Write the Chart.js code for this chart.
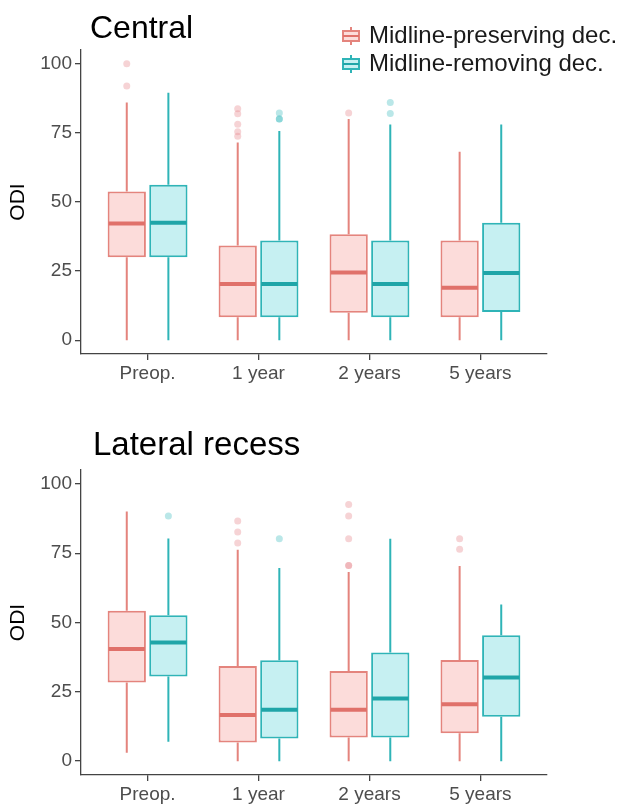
<!DOCTYPE html>
<html>
<head>
<meta charset="utf-8">
<script src="https://cdn.jsdelivr.net/npm/chart.js@4.4.0/dist/chart.umd.min.js"></script>
<style>
  html, body { margin: 0; padding: 0; background: #fff; width: 633px; height: 807px; overflow: hidden;
    font-family: "Liberation Sans", Arial, sans-serif; }
  canvas { position: absolute; left: 0; }
  #c1 { top: 0; }
  #c2 { top: 400px; }
  .title { position: absolute; color: #000; line-height: 1; white-space: nowrap; }
  .legtext { position: absolute; left: 369px; font-size: 24px; line-height: 28px; color: #1a1a1a; white-space: nowrap; }
  .key { position: absolute; left: 342px; width: 18px; height: 18px; }
  .key .wh { position: absolute; left: 8px; top: 0; width: 2px; height: 18px; }
  .key .bx { position: absolute; left: 0; top: 3px; width: 14px; height: 8px; border-width: 2px; border-style: solid; }
  .key .md { position: absolute; left: 1px; top: 8px; width: 16px; height: 2px; }
</style>
</head>
<body>
<canvas id="c1" width="633" height="410"></canvas>
<canvas id="c2" width="633" height="407"></canvas>

<div class="title" style="left:90px; top:11px; font-size:32px;">Central</div>
<div class="title" style="left:93px; top:427px; font-size:33px;">Lateral recess</div>

<div class="key" style="top:27px;">
  <div class="wh" style="background:#E4847D"></div>
  <div class="bx" style="background:#FCDCDA;border-color:#E4847D;"></div>
  <div class="md" style="background:#E0716A"></div>
</div>
<div class="legtext" style="top:21px;">Midline-preserving dec.</div>
<div class="key" style="top:55px;">
  <div class="wh" style="background:#2FB4B7"></div>
  <div class="bx" style="background:#C6F0F2;border-color:#2FB4B7;"></div>
  <div class="md" style="background:#1FA5A8"></div>
</div>
<div class="legtext" style="top:49px;">Midline-removing dec.</div>

<script>
// ---------- data ----------
const categories = ['Preop.', '1 year', '2 years', '5 years'];
const yTickValues = [0, 25, 50, 75, 100];
const seriesNames = ['Midline-preserving dec.', 'Midline-removing dec.'];

// Central — midline-preserving
const centralPresLow = [0, 0, 0, 0];
const centralPresQ1 = [30, 8.3, 9.9, 8.3];
const centralPresMed = [42.2, 20.3, 24.5, 19];
const centralPresQ3 = [53.8, 34.3, 38.3, 36.1];
const centralPresHigh = [86, 71.5, 80, 68.2];
const centralPresOut = [[100, 92], [83.7, 81.9, 78.1, 75.4, 73.8], [82.2], []];
// Central — midline-removing
const centralRemLow = [0, 0, 0, 0];
const centralRemQ1 = [30, 8.3, 8.3, 10.2];
const centralRemMed = [42.5, 20.3, 20.3, 24.3];
const centralRemQ3 = [56.2, 36.1, 36.1, 42.5];
const centralRemHigh = [89.5, 75.7, 78, 78];
const centralRemOut = [[], [82.2, 80, 80], [86, 82], []];

// Lateral recess — midline-preserving
const latPresLow = [3, 0, 0, 0];
const latPresQ1 = [28.4, 6.7, 8.5, 10.1];
const latPresMed = [40.4, 16.6, 18.5, 20.5];
const latPresQ3 = [54.2, 34.3, 32.5, 36.5];
const latPresHigh = [90, 76.2, 68.2, 70.4];
const latPresOut = [[], [86.6, 82.6, 78.7], [92.6, 88.4, 80.2, 70.6, 70.6], [80.2, 76.4]];
// Lateral recess — midline-removing
const latRemLow = [7, 0, 0, 0];
const latRemQ1 = [30.5, 8.2, 8.5, 16];
const latRemMed = [42.8, 18.5, 22.6, 30.2];
const latRemQ3 = [52.6, 36.4, 39.2, 45.4];
const latRemHigh = [80.3, 69.7, 80.2, 56.5];
const latRemOut = [[88.4], [80.2], [], []];

// ---------- styles ----------
const styles = [
  { fill: '#FCDCDA', stroke: '#E4847D', median: '#E0716A', outlier: 'rgba(232,140,145,0.38)' },
  { fill: '#C6F0F2', stroke: '#2FB4B7', median: '#1FA5A8', outlier: 'rgba(40,180,185,0.32)' }
];

function boxDataset(idx, q1, med, q3, lo, hi, out) {
  return {
    label: seriesNames[idx],
    data: q1.map((v, i) => ({ x: i + 1, y: [v, q3[i]] })),
    backgroundColor: styles[idx].fill,
    borderColor: styles[idx].stroke,
    borderWidth: 2,
    borderSkipped: false,
    categoryPercentage: 0.75,
    barPercentage: 0.92,
    stats: { lo, med, hi, out },
    styleIdx: idx
  };
}

const boxExtras = {
  id: 'boxExtras',
  beforeDatasetsDraw(chart) {
    const ctx = chart.ctx, ys = chart.scales.y;
    chart.data.datasets.forEach((ds, d) => {
      const meta = chart.getDatasetMeta(d);
      const st = styles[ds.styleIdx];
      meta.data.forEach((bar, i) => {
        const x = bar.x;
        const q1 = ds.data[i].y[0], q3 = ds.data[i].y[1];
        ctx.save();
        ctx.strokeStyle = st.stroke;
        ctx.lineWidth = 2;
        ctx.beginPath();
        ctx.moveTo(x, ys.getPixelForValue(q3));
        ctx.lineTo(x, ys.getPixelForValue(ds.stats.hi[i]));
        ctx.moveTo(x, ys.getPixelForValue(q1));
        ctx.lineTo(x, ys.getPixelForValue(ds.stats.lo[i]));
        ctx.stroke();
        ctx.restore();
      });
    });
  },
  afterDatasetsDraw(chart) {
    const ctx = chart.ctx, ys = chart.scales.y;
    chart.data.datasets.forEach((ds, d) => {
      const meta = chart.getDatasetMeta(d);
      const st = styles[ds.styleIdx];
      meta.data.forEach((bar, i) => {
        const x = bar.x, w = bar.width;
        const ym = ys.getPixelForValue(ds.stats.med[i]);
        ctx.save();
        ctx.strokeStyle = st.median;
        ctx.lineWidth = 4;
        ctx.beginPath();
        ctx.moveTo(x - w / 2 + 1, ym);
        ctx.lineTo(x + w / 2 - 1, ym);
        ctx.stroke();
        ctx.fillStyle = st.outlier;
        ds.stats.out[i].forEach(v => {
          ctx.beginPath();
          ctx.arc(x, ys.getPixelForValue(v), 3.5, 0, Math.PI * 2);
          ctx.fill();
        });
        ctx.restore();
      });
    });
  }
};

function makeChart(id, padTop, areaBottom, datasets) {
  const canvas = document.getElementById(id);
  const H = canvas.height;
  return new Chart(canvas, {
    type: 'bar',
    data: { datasets },
    plugins: [boxExtras],
    options: {
      responsive: false,
      animation: false,
      events: [],
      layout: { padding: { top: padTop, right: 86, bottom: 0, left: 0 } },
      plugins: { legend: { display: false }, tooltip: { enabled: false }, title: { display: false } },
      scales: {
        x: {
          type: 'linear',
          min: 0.4,
          max: 4.6,
          offset: false,
          afterBuildTicks: s => { s.ticks = categories.map((c, i) => ({ value: i + 1 })); },
          afterFit: s => { s.height = H - areaBottom; },
          grid: { display: true, drawOnChartArea: false, drawTicks: true, tickLength: 6, color: '#444', lineWidth: 1.3, offset: false },
          border: { display: true, color: '#444', width: 1.3 },
          ticks: {
            color: '#4D4D4D', padding: 2, maxRotation: 0, autoSkip: false,
            font: { family: '"Liberation Sans", Arial, sans-serif', size: 19 },
            callback: v => categories[Math.round(v) - 1]
          }
        },
        y: {
          min: -5,
          max: 105,
          afterBuildTicks: s => { s.ticks = yTickValues.map(v => ({ value: v })); },
          afterFit: s => { s.width = 81; },
          grid: { display: true, drawOnChartArea: false, drawTicks: true, tickLength: 6, color: '#444', lineWidth: 1.3 },
          border: { display: true, color: '#444', width: 1.3 },
          ticks: {
            color: '#4D4D4D', padding: 3,
            font: { family: '"Liberation Sans", Arial, sans-serif', size: 19 }
          },
          title: {
            display: true, text: 'ODI', color: '#000',
            font: { family: '"Liberation Sans", Arial, sans-serif', size: 21 },
            padding: { top: 6, bottom: 0 }
          }
        }
      }
    }
  });
}

makeChart('c1', 50, 354, [
  boxDataset(0, centralPresQ1, centralPresMed, centralPresQ3, centralPresLow, centralPresHigh, centralPresOut),
  boxDataset(1, centralRemQ1, centralRemMed, centralRemQ3, centralRemLow, centralRemHigh, centralRemOut)
]);
makeChart('c2', 70, 375, [
  boxDataset(0, latPresQ1, latPresMed, latPresQ3, latPresLow, latPresHigh, latPresOut),
  boxDataset(1, latRemQ1, latRemMed, latRemQ3, latRemLow, latRemHigh, latRemOut)
]);
</script>
</body>
</html>
